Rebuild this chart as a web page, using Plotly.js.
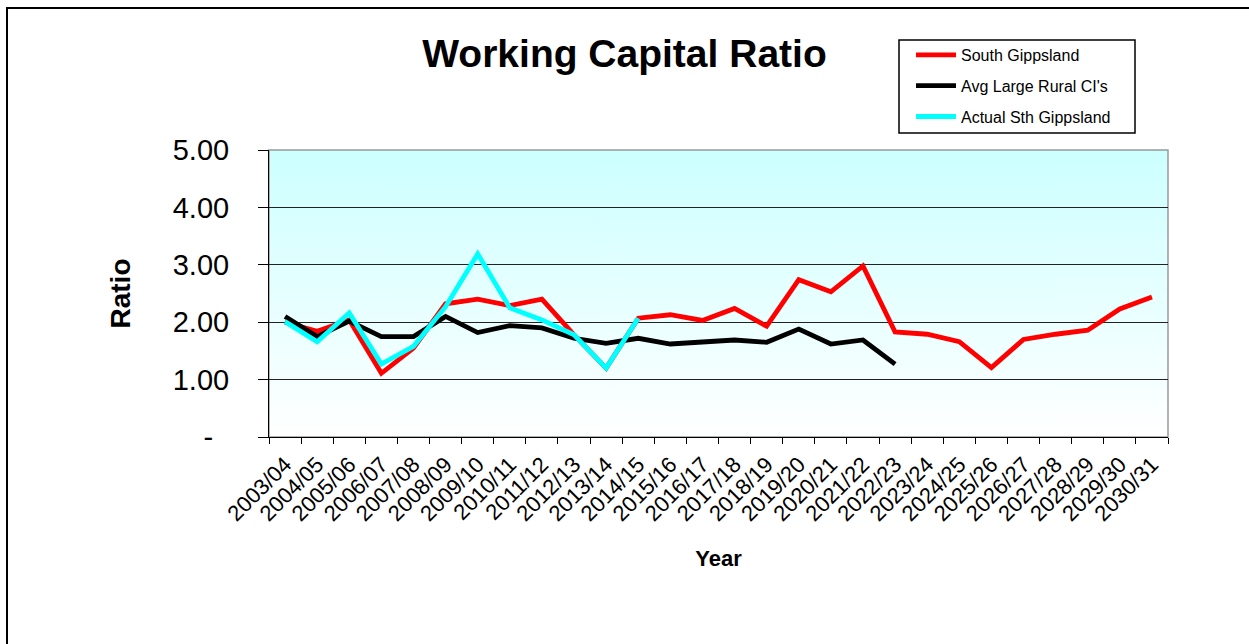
<!DOCTYPE html>
<html>
<head>
<meta charset="utf-8">
<script src="https://cdn.plot.ly/plotly-3.0.1.min.js"></script>
<style>
  html, body { margin: 0; padding: 0; background: #fff; }
  #wrap { position: relative; width: 1249px; height: 644px; }
  #chart { width: 1249px; height: 644px; }
  #frame { position: absolute; left: 6px; top: 7px; right: 0; bottom: 0;
           border-left: 2px solid #000; border-top: 2px solid #000; pointer-events: none; }
</style>
</head>
<body>
<div id="wrap">
  <div id="chart"></div>
  <div id="frame"></div>
</div>
<script>
const years = ["2003/04","2004/05","2005/06","2006/07","2007/08","2008/09","2009/10","2010/11",
  "2011/12","2012/13","2013/14","2014/15","2015/16","2016/17","2017/18","2018/19","2019/20",
  "2020/21","2021/22","2022/23","2023/24","2024/25","2025/26","2026/27","2027/28","2028/29",
  "2029/30","2030/31"];

const southGippsland = [2.00,1.84,2.04,1.11,1.55,2.32,2.40,2.29,2.40,1.78,1.20,2.07,2.13,2.03,
  2.24,1.93,2.74,2.53,2.98,1.83,1.79,1.66,1.21,1.70,1.79,1.86,2.23,2.44];

const avgLargeRural = [2.10,1.75,2.02,1.75,1.75,2.10,1.82,1.94,1.90,1.72,1.63,1.72,1.62,1.65,
  1.69,1.65,1.88,1.62,1.69,1.27,null,null,null,null,null,null,null,null];

const actualSthGippsland = [2.01,1.66,2.16,1.27,1.58,2.27,3.19,2.25,2.04,1.78,1.20,2.07,
  null,null,null,null,null,null,null,null,null,null,null,null,null,null,null,null];

const yTickVals = [0,1,2,3,4,5];
const yTickText = ["-\u00a0\u00a0","1.00","2.00","3.00","4.00","5.00"];

// gradient background image for plot area
const cv = document.createElement('canvas');
cv.width = 4; cv.height = 287;
const ctx = cv.getContext('2d');
const g = ctx.createLinearGradient(0,0,0,287);
g.addColorStop(0,'#CCFFFF');
g.addColorStop(1,'#FFFFFF');
ctx.fillStyle = g; ctx.fillRect(0,0,4,287);
const bgURL = cv.toDataURL('image/png');

const FONT = 'Arial, "Liberation Sans", sans-serif';

const traces = [
  {x: years, y: southGippsland, name: 'South Gippsland', type: 'scatter', mode: 'lines',
   line: {color: '#FF0000', width: 4.8}, legendgroup: 'a'},
  {x: years, y: avgLargeRural, name: "Avg Large Rural CI's", type: 'scatter', mode: 'lines',
   line: {color: '#000000', width: 4.8}, legendgroup: 'b'},
  {x: years, y: actualSthGippsland, name: 'Actual Sth Gippsland', type: 'scatter', mode: 'lines',
   line: {color: '#00FFFF', width: 4.8}, legendgroup: 'c'}
];

const L = 269, R = 1249-1168, T = 150, B = 644-437;
const PW = 1249 - L - R, PH = 644 - T - B;
function px(x){ return (x - L)/PW; }
function py(y){ return (644 - B - y)/PH; }

const layout = {
  width: 1249, height: 644,
  margin: {l: L, r: R, t: T, b: B, pad: 0, autoexpand: false},
  paper_bgcolor: '#ffffff',
  plot_bgcolor: 'rgba(0,0,0,0)',
  font: {family: FONT, color: '#000'},
  title: {text: '<b>Working Capital Ratio</b>', font: {size: 39, family: FONT, color: '#000'},
          x: 0.5, xref: 'container', xanchor: 'center', y: 1 - 53/644, yref: 'container', yanchor: 'middle'},
  showlegend: true,
  legend: {x: px(911), y: py(38), xanchor: 'left', yanchor: 'top',
           bgcolor: 'rgba(0,0,0,0)', borderwidth: 0, font: {size: 16, family: FONT, color: '#000'},
           traceorder: 'grouped', tracegroupgap: 7, itemwidth: 40},
  xaxis: {type: 'category', range: [-0.5, 27.5], tickson: 'boundaries', ticks: 'outside', ticklen: 6,
          tickmode: 'array', tickvals: years, ticktext: years, ticklabelstandoff: 5,
          tickcolor: '#000', tickwidth: 1, showline: true, linecolor: '#000', linewidth: 1,
          showgrid: false, zeroline: false, tickangle: -45, tickfont: {size: 22, family: FONT, color: '#000'},
          title: {text: '<b>Year</b>', font: {size: 22, family: FONT, color: '#000'}, standoff: 25},
          fixedrange: true},
  yaxis: {range: [0, 5], tickvals: yTickVals, ticktext: yTickText, ticks: 'outside', ticklen: 10,
          tickcolor: '#000', tickwidth: 1, showline: true, linecolor: '#000', linewidth: 1,
          showgrid: true, gridcolor: '#222', gridwidth: 1, zeroline: false,
          ticklabelstandoff: 23,
          tickfont: {size: 29, family: FONT, color: '#000'},
          title: {text: '<b>Ratio</b>', font: {size: 28, family: FONT, color: '#000'}, standoff: 33},
          fixedrange: true},
  images: [{source: bgURL, xref: 'paper', yref: 'paper', x: 0, y: 1, sizex: 1, sizey: 1,
            xanchor: 'left', yanchor: 'top', sizing: 'stretch', layer: 'below'}],
  shapes: [
    {type: 'rect', xref: 'paper', yref: 'paper', x0: 0, x1: 1, y0: 0, y1: 1,
     line: {color: '#999', width: 1.5}, layer: 'below'},
    {type: 'rect', xref: 'paper', yref: 'paper', x0: px(899), x1: px(1135), y0: py(133), y1: py(40),
     line: {color: '#000', width: 1.5}, fillcolor: '#fff', layer: 'below'}
  ]
};

Plotly.newPlot('chart', traces, layout, {displayModeBar: false, staticPlot: true});
</script>
</body>
</html>
